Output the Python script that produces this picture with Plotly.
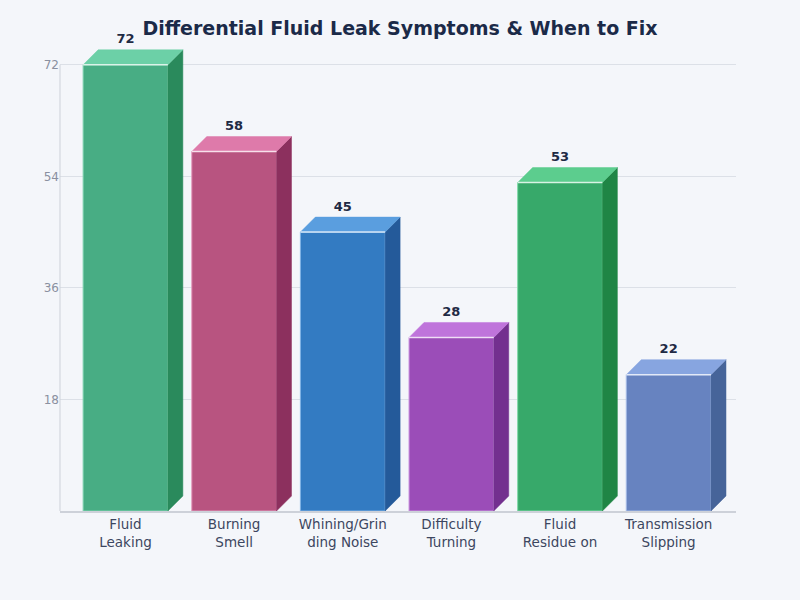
import plotly.graph_objects as go

categories = ["Fluid<br>Leaking", "Burning<br>Smell", "Whining/Grin<br>ding Noise",
              "Difficulty<br>Turning", "Fluid<br>Residue on", "Transmission<br>Slipping"]
values = [72, 58, 45, 28, 53, 22]
front_colors = ["#48AD84", "#B85480", "#337BC2", "#9B4DB8", "#37A96A", "#6783C0"]
top_colors = ["#6CD0A7", "#DE7AAA", "#5A9EDF", "#BF74DB", "#5CCD8E", "#87A5E0"]
side_colors = ["#2A8A5C", "#8C305E", "#245A9A", "#73308F", "#1F8545", "#466499"]
edge_colors = ["#7FD3B0", "#E39BBD", "#7FB3E6", "#CB95E0", "#7FD9A6", "#A5BBE8"]
y_ticks = [18, 36, 54, 72]

BW = 0.78      # front width in category units
DX = 0.138     # depth offset x (category units)
DY = 2.42      # depth offset y (value units)
LABEL_GAP = 0.5

xs = list(range(len(values)))
fig = go.Figure()

fig.add_trace(go.Bar(
    x=xs, y=values, width=BW,
    marker=dict(color=front_colors, line=dict(color=edge_colors, width=1)),
    hoverinfo="skip", showlegend=False,
))

for i, v in enumerate(values):
    x0 = i - BW / 2
    x1 = i + BW / 2
    fig.add_trace(go.Scatter(
        x=[x1, x1 + DX, x1 + DX, x1, x1], y=[0, DY, v + DY, v, 0],
        fill="toself", fillcolor=side_colors[i], mode="lines",
        line=dict(color=side_colors[i], width=0.5),
        hoverinfo="skip", showlegend=False,
    ))
    fig.add_trace(go.Scatter(
        x=[x0, x0 + DX, x1 + DX, x1, x0], y=[v, v + DY, v + DY, v, v],
        fill="toself", fillcolor=top_colors[i], mode="lines",
        line=dict(color=top_colors[i], width=0.5),
        hoverinfo="skip", showlegend=False,
    ))
    fig.add_trace(go.Scatter(
        x=[x0, x1], y=[v, v], mode="lines",
        line=dict(color="rgba(255,255,255,0.75)", width=1.5),
        hoverinfo="skip", showlegend=False,
    ))

fig.add_trace(go.Scatter(
    x=xs, y=[v + DY + LABEL_GAP for v in values], mode="text",
    text=[str(v) for v in values], textposition="top center",
    textfont=dict(family="DejaVu Sans", size=13, color="#1F2A44", weight="bold"),
    cliponaxis=False, hoverinfo="skip", showlegend=False,
))

fig.update_layout(
    width=800, height=600,
    paper_bgcolor="#F4F6FA", plot_bgcolor="#F4F6FA",
    margin=dict(l=60, r=64, t=40, b=89),
    title=dict(text="<b>Differential Fluid Leak Symptoms &amp; When to Fix</b>",
               x=0.5, xanchor="center", y=1 - 28 / 600, yanchor="middle",
               font=dict(family="DejaVu Sans", size=19, color="#1B2A48")),
    font=dict(family="DejaVu Sans"),
    xaxis=dict(range=[-0.603, 5.62], tickvals=xs, ticktext=categories,
               showgrid=False, zeroline=False, showline=True,
               linecolor="#CDD1D9", linewidth=2, ticks="",
               tickfont=dict(size=13.5, color="#3C4660")),
    yaxis=dict(range=[0, 76], tickvals=y_ticks, showgrid=True,
               gridcolor="#DCE0E7", gridwidth=1, zeroline=False, showline=False,
               ticks="", tickfont=dict(size=12, color="#8A90A0")),
    shapes=[dict(type="line", xref="paper", yref="y", x0=0, x1=0, y0=0, y1=72,
                 line=dict(color="#CDD1D9", width=1))],
)

fig.write_html("out.html", config={"displayModeBar": False},
               post_script="document.body.style.margin='0';"
                           "document.body.style.background='#F4F6FA';")
